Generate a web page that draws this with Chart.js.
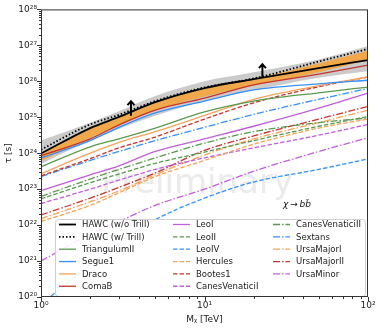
<!DOCTYPE html>
<html>
<head>
<meta charset="utf-8">
<script src="https://cdn.jsdelivr.net/npm/chart.js@4.4.0/dist/chart.umd.min.js"></script>
<style>
  body { margin: 0; background: #fff; }
  canvas { display: block; }
</style>
</head>
<body>
<canvas id="grafico" width="382" height="330"></canvas>
<script>
// dark matter mass [TeV]
const masses = [1, 2, 3, 5, 10, 20, 50, 100]

// lifetime limits tau [s]
const hawcNoTrill = [9.8e23, 5.0e24, 1.02e25, 2.63e25, 6.46e25, 1.15e26, 2.34e26, 3.89e26]
const hawcTrill = [1.26e24, 6.31e24, 1.17e25, 2.82e25, 6.76e25, 1.2e26, 3.55e26, 7.94e26]
const grayHigh = [2.24e24, 7.08e24, 1.48e25, 3.89e25, 1.0e26, 1.78e26, 4.07e26, 9.55e26]
const grayLow = [5.01e23, 2.24e24, 4.79e24, 1.1e25, 2.82e25, 5.62e25, 1.26e26, 1.91e26]
const orangeHigh = [1.0e24, 5.01e24, 1.0e25, 2.51e25, 6.31e25, 1.15e26, 3.16e26, 7.08e26]
const orangeLow = [6.03e23, 2.75e24, 6.03e24, 1.58e25, 3.8e25, 7.59e25, 1.78e26, 3.98e26]

const triangulumII = [4.17e23, 1.51e24, 2.51e24, 5.01e24, 1.41e25, 2.82e25, 4.79e25, 6.92e25]
const segue1 = [7.41e23, 2.24e24, 5.25e24, 1.32e25, 2.82e25, 5.75e25, 8.51e25, 1.07e26]
const draco = [2.69e23, 1.0e24, 2.0e24, 3.98e24, 1.12e25, 3.16e25, 7.59e25, 1.32e26]
const comaB = [8.51e23, 2.51e24, 6.17e24, 1.58e25, 3.39e25, 7.94e25, 1.58e26, 2.82e26]
const leoI = [9.12e22, 2.51e23, 4.47e23, 1.12e24, 2.51e24, 5.62e24, 1.78e25, 4.68e25]
const leoII = [5.37e22, 1.51e23, 2.63e23, 5.25e23, 1.07e24, 2.24e24, 5.62e24, 1.05e25]
const leoIV = [6.31e19, 7.94e20, 3.16e21, 1.41e22, 5.62e22, 1.58e23, 3.55e23, 6.92e23]
const hercules = [1.26e22, 3.55e22, 7.94e22, 2.24e23, 6.31e23, 1.78e24, 5.01e24, 8.91e24]
const bootes1 = [2.34e23, 7.08e23, 1.41e24, 2.82e24, 8.91e24, 2.51e25, 7.08e25, 1.32e26]
const canesVenaticiI = [3.98e22, 1.0e23, 1.78e23, 3.55e23, 7.41e23, 1.41e24, 3.16e24, 6.31e24]
const canesVenaticiII = [6.31e22, 1.91e23, 3.55e23, 7.41e23, 1.91e24, 3.98e24, 7.08e24, 9.55e24]
const sextans = [2.24e23, 6.31e23, 1.12e24, 2.24e24, 5.25e24, 1.2e25, 3.16e25, 6.31e25]
const ursaMajorI = [1.51e22, 4.47e22, 8.91e22, 2.51e23, 8.91e23, 2.51e24, 7.08e24, 1.58e25]
const ursaMajorII = [1.91e22, 5.62e22, 1.12e23, 2.82e23, 1.2e24, 3.02e24, 8.91e24, 2.0e25]
const ursaMinor = [1.0e21, 5.62e21, 1.26e22, 3.55e22, 1.0e23, 3.16e23, 1.12e24, 2.69e24]

// arrows on the HAWC curve
const arrowMasses = [3.55, 22.6]
const arrowFrom = [1.1e25, 1.23e26]
const arrowTo = [2.8e25, 3.0e26]

const xTicks = [1, 2, 3, 4, 5, 6, 7, 8, 9, 10, 20, 30, 40, 50, 60, 70, 80, 90, 100]
const yExps = [20, 21, 22, 23, 24, 25, 26, 27, 28]

const green = '#5a9a4e'
const blue = '#3590ff'
const orange = '#f5a35c'
const red = '#c3352e'
const purple = '#c25ddc'

const solid = []
const dashed = [4.5, 2]
const dashDot = [7, 2, 1.5, 2]
const dotted = [1.5, 2]

const sup = { '0': '⁰', '1': '¹', '2': '²', '3': '³', '4': '⁴', '5': '⁵', '6': '⁶', '7': '⁷', '8': '⁸', '9': '⁹' }
function powLabel(e) {
    return '10' + String(e).split('').map(c => sup[c]).join('')
}

function points(vals) {
    return masses.map((m, i) => ({ x: m, y: vals[i] }))
}

function curve(label, vals, color, dash, width, order) {
    return {
        label: label,
        data: points(vals),
        borderColor: color,
        backgroundColor: color,
        borderDash: dash,
        borderWidth: width || 1.3,
        pointRadius: 0,
        fill: false,
        cubicInterpolationMode: 'monotone',
        order: order === undefined ? 5 : order
    }
}

function band(vals, color, fill, order) {
    return {
        label: '',
        noLegend: true,
        data: points(vals),
        borderWidth: 0,
        borderColor: 'rgba(0,0,0,0)',
        backgroundColor: color,
        pointRadius: 0,
        fill: fill,
        cubicInterpolationMode: 'monotone',
        order: order
    }
}

function isMajor(v) {
    const l = Math.log10(v)
    return Math.abs(l - Math.round(l)) < 1e-9
}

const datasets = [
    band(grayHigh, '#cbcbcb', '+1', 10),
    band(grayLow, '#cbcbcb', false, 10),
    band(orangeHigh, '#f0a84b', '+1', 9),
    band(orangeLow, '#f0a84b', false, 9),
    curve('HAWC (w/o Trill)', hawcNoTrill, '#000000', solid, 1.8, 0),
    curve('HAWC (w/ Trill)', hawcTrill, '#000000', dotted, 1.8, 0),
    curve('TriangulumII', triangulumII, green, solid),
    curve('Segue1', segue1, blue, solid),
    curve('Draco', draco, orange, solid),
    curve('ComaB', comaB, red, solid),
    curve('LeoI', leoI, purple, solid),
    curve('LeoII', leoII, green, dashed),
    curve('LeoIV', leoIV, blue, dashed),
    curve('Hercules', hercules, orange, dashed),
    curve('Bootes1', bootes1, red, dashed),
    curve('CanesVenaticiI', canesVenaticiI, purple, dashed),
    curve('CanesVenaticiII', canesVenaticiII, green, dashDot),
    curve('Sextans', sextans, blue, dashDot),
    curve('UrsaMajorI', ursaMajorI, orange, dashDot),
    curve('UrsaMajorII', ursaMajorII, red, dashDot),
    curve('UrsaMinor', ursaMinor, purple, dashDot)
]

const fonte = '"DejaVu Sans", sans-serif'

// watermark behind the curves
const marcaDagua = {
    id: 'marcaDagua',
    beforeDatasetsDraw(chart) {
        const ctx = chart.ctx
        ctx.save()
        ctx.font = '34px ' + fonte
        ctx.fillStyle = '#ebebeb'
        ctx.textAlign = 'center'
        ctx.textBaseline = 'alphabetic'
        ctx.fillText('Preliminary', 197, 193)
        ctx.restore()
    }
}

// arrows, legend box, channel label
const extras = {
    id: 'extras',
    afterDatasetsDraw(chart) {
        const ctx = chart.ctx
        const xs = chart.scales.x
        const ys = chart.scales.y
        ctx.save()

        ctx.strokeStyle = '#000'
        ctx.lineWidth = 2
        arrowMasses.forEach((m, i) => {
            const px = xs.getPixelForValue(m)
            const y0 = ys.getPixelForValue(arrowFrom[i])
            const y1 = ys.getPixelForValue(arrowTo[i])
            ctx.beginPath()
            ctx.moveTo(px, y0)
            ctx.lineTo(px, y1)
            ctx.moveTo(px - 3.5, y1 + 4)
            ctx.lineTo(px, y1)
            ctx.lineTo(px + 3.5, y1 + 4)
            ctx.stroke()
        })

        ctx.font = 'italic 9px ' + fonte
        ctx.fillStyle = '#111'
        ctx.textAlign = 'center'
        ctx.textBaseline = 'middle'
        ctx.fillText('χ\u2009→\u2009bb\u0304', 297, 205)

        // legend
        const items = chart.data.datasets.filter(d => !d.noLegend)
        ctx.beginPath()
        ctx.roundRect(55.5, 219.5, 310, 77, 3)
        ctx.fillStyle = 'rgba(255,255,255,0.9)'
        ctx.fill()
        ctx.strokeStyle = '#cfcfcf'
        ctx.lineWidth = 1
        ctx.stroke()

        const colX = [59, 173, 273]
        ctx.font = '8.5px ' + fonte
        ctx.textAlign = 'left'
        ctx.textBaseline = 'middle'
        items.forEach((d, i) => {
            const col = Math.floor(i / 6)
            const row = i % 6
            const x = colX[col]
            const y = 224.5 + row * 12.35
            ctx.strokeStyle = d.borderColor
            ctx.lineWidth = d.borderWidth
            ctx.setLineDash(d.borderDash)
            ctx.beginPath()
            ctx.moveTo(x, y)
            ctx.lineTo(x + 17, y)
            ctx.stroke()
            ctx.setLineDash([])
            ctx.fillStyle = '#222'
            ctx.fillText(d.label, x + 23, y + 0.5)
        })
        ctx.restore()
    },
    afterDraw(chart) {
        const ctx = chart.ctx
        const { left, right, top, bottom } = chart.chartArea
        ctx.save()
        ctx.strokeStyle = '#333'
        ctx.lineWidth = 1
        ctx.strokeRect(left + 0.5, top + 0.5, right - left - 1, bottom - top - 1)

        const xs = chart.scales.x
        xs.ticks.forEach(t => {
            const px = Math.round(xs.getPixelForValue(t.value)) + 0.5
            const len = isMajor(t.value) ? 4 : 2
            ctx.beginPath()
            ctx.moveTo(px, bottom)
            ctx.lineTo(px, bottom + len)
            ctx.stroke()
        })
        const ys = chart.scales.y
        ys.ticks.forEach(t => {
            const py = Math.round(ys.getPixelForValue(t.value)) + 0.5
            const len = isMajor(t.value) ? 4 : 2
            ctx.beginPath()
            ctx.moveTo(left, py)
            ctx.lineTo(left - len, py)
            ctx.stroke()
        })
        ctx.restore()
    }
}

const config = {
    type: 'line',
    data: { datasets: datasets },
    options: {
        responsive: false,
        animation: false,
        devicePixelRatio: 1,
        layout: { padding: { left: 0, top: 8, right: 14, bottom: 0 } },
        plugins: {
            legend: { display: false },
            tooltip: { enabled: false }
        },
        scales: {
            x: {
                type: 'logarithmic',
                min: 1,
                max: 100,
                grid: { display: false, drawTicks: false },
                border: { display: false },
                afterBuildTicks: s => { s.ticks = xTicks.map(v => ({ value: v, major: isMajor(v) })) },
                afterFit: s => { s.height = 33 },
                ticks: {
                    autoSkip: false,
                    maxRotation: 0,
                    padding: 3,
                    color: '#222',
                    font: { family: fonte, size: 9 },
                    callback: v => isMajor(v) ? powLabel(Math.round(Math.log10(v))) : ''
                },
                title: {
                    display: true,
                    text: 'Mᵪ [TeV]',
                    color: '#222',
                    font: { family: fonte, size: 9 },
                    padding: { top: 0, bottom: 5 }
                }
            },
            y: {
                type: 'logarithmic',
                min: 1e20,
                max: 1e28,
                grid: { display: false, drawTicks: false },
                border: { display: false },
                afterBuildTicks: s => {
                    const list = []
                    yExps.forEach(e => {
                        for (let k = 1; k <= 9; k++) {
                            if (e === 28 && k > 1) break
                            list.push({ value: k * Math.pow(10, e), major: k === 1 })
                        }
                    })
                    s.ticks = list
                },
                afterFit: s => { s.width = 41 },
                ticks: {
                    autoSkip: false,
                    padding: 4,
                    color: '#222',
                    font: { family: fonte, size: 9 },
                    callback: v => isMajor(v) ? powLabel(Math.round(Math.log10(v))) : ''
                },
                title: {
                    display: true,
                    text: 'τ [s]',
                    color: '#222',
                    font: { family: fonte, size: 9 },
                    padding: { top: 3, bottom: 0 }
                }
            }
        }
    },
    plugins: [marcaDagua, extras]
}

new Chart(document.getElementById('grafico'), config)
</script>
</body>
</html>
